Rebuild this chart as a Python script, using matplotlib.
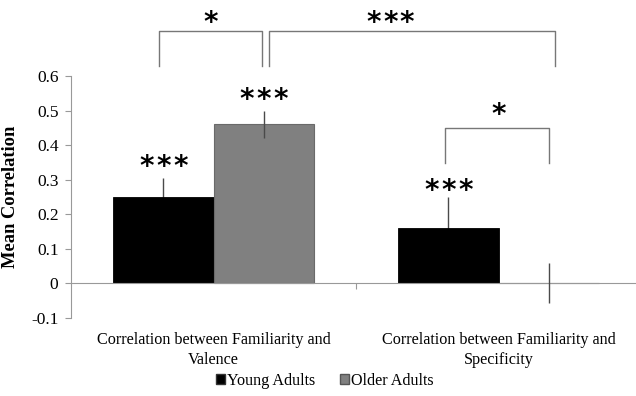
import matplotlib.pyplot as plt
from matplotlib.patches import Patch

# data
categories = ["Correlation between Familiarity and\nValence",
              "Correlation between Familiarity and\nSpecificity"]
young = [0.25, 0.16]
young_err = [0.055, 0.09]
older = [0.46, 0.0]
older_err = [0.04, 0.058]
yticks = [-0.1, 0, 0.1, 0.2, 0.3, 0.4, 0.5, 0.6]
ytick_labels = ["-0.1", "0", "0.1", "0.2", "0.3", "0.4", "0.5", "0.6"]

plt.rcParams['font.family'] = ['Liberation Serif', 'DejaVu Serif']

fig = plt.figure(figsize=(6.36, 3.96), dpi=100)
ax = fig.add_axes([71 / 636, 78 / 396, 570 / 636, 242 / 396])

w = 0.351
x = [0, 1]
xy = [i - w / 2 for i in x]
xo = [i + w / 2 for i in x]
ax.bar(xy, young, w, color="black", edgecolor="black", linewidth=0.6, zorder=2, label="Young Adults")
ax.bar(xo, older, w, color="#808080", edgecolor="#6a6a6a", linewidth=0.8, zorder=2, label="Older Adults")
ax.errorbar(xy, young, yerr=young_err, fmt="none", ecolor="#4a4a4a", elinewidth=1.0, capsize=0, zorder=1.5)
ax.errorbar(xo, older, yerr=older_err, fmt="none", ecolor="#4a4a4a", elinewidth=1.0, capsize=0, zorder=3)

ax.set_xlim(-0.5, 1.5)
ax.set_ylim(-0.1, 0.6)
ax.set_yticks(yticks)
ax.set_yticklabels(ytick_labels, fontsize=12.5)
ax.tick_params(axis="y", colors="#999999", labelcolor="black", length=4, width=0.8, pad=5)

ax.spines["top"].set_visible(False)
ax.spines["right"].set_visible(False)
ax.spines["left"].set_color("#999999")
ax.spines["bottom"].set_position(("data", 0))
ax.spines["bottom"].set_color("#999999")
ax.spines["bottom"].set_zorder(2.5)
ax.set_xticks([0.5])
ax.set_xticklabels([""])
ax.tick_params(axis="x", colors="#999999", length=4, width=0.8)
for i, c in enumerate(categories):
    ax.text(x[i], -0.14, c, ha="center", va="top", fontsize=11.6,
            transform=ax.transData, linespacing=1.35)

ax.set_ylabel("Mean Correlation", fontsize=13.3, fontweight="bold", labelpad=9)


def stars(xc, yc, n):
    # one asterisk per glyph, 12pt apart; glyph sits high so shift baseline down
    for k in range(n):
        off = (k - (n - 1) / 2) * 12.2
        ax.annotate("*", (xc, yc), xytext=(off, -11.8), textcoords="offset points",
                    ha="center", va="baseline", fontsize=20, fontweight="bold",
                    family="DejaVu Sans", annotation_clip=False)


stars(xy[0], 0.362, 3)
stars(xo[0], 0.555, 3)
stars(xy[1], 0.292, 3)

# brackets
br = dict(color="#777777", lw=1.0, clip_on=False)
ax.plot([-0.191, -0.191, 0.170, 0.170], [0.628, 0.729, 0.729, 0.628], **br)
ax.plot([0.195, 0.195, 1.198, 1.198], [0.628, 0.729, 0.729, 0.628], **br)
ax.plot([0.812, 0.812, 1.177, 1.177], [0.347, 0.451, 0.451, 0.347], **br)
stars(-0.01, 0.778, 1)
stars(0.62, 0.778, 3)
stars(1.0, 0.512, 1)

handles = [Patch(facecolor="black", edgecolor="#333333"),
           Patch(facecolor="#808080", edgecolor="#555555")]
fig.legend(handles, ["Young Adults", "Older Adults"], loc="center",
           bbox_to_anchor=(325 / 636, 1 - 381 / 396), ncol=2, frameon=False,
           fontsize=11.6, handlelength=0.55, handleheight=0.55, handletextpad=0.15,
           columnspacing=1.5)

fig.savefig("out.png", dpi=100)
